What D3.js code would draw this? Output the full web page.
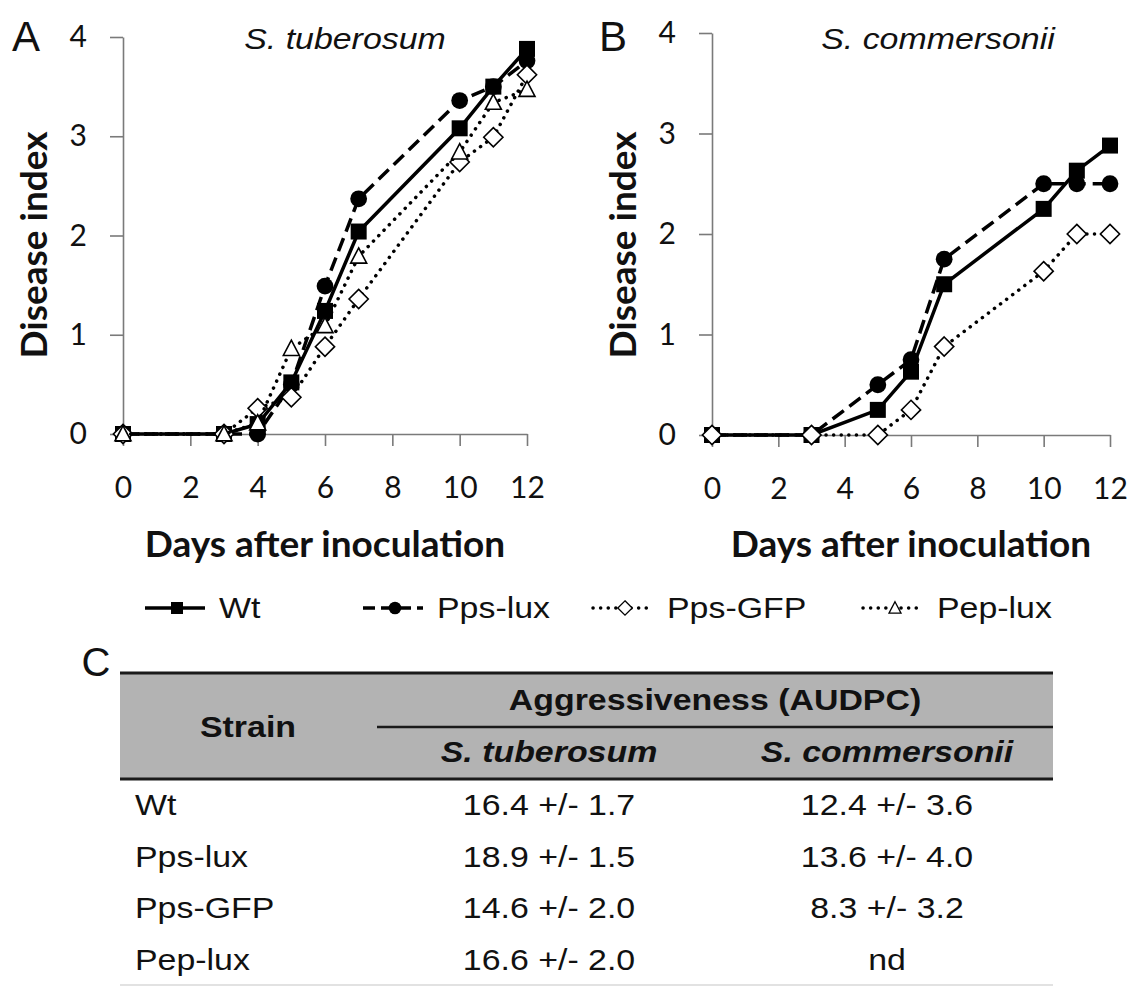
<!DOCTYPE html>
<html>
<head>
<meta charset="utf-8">
<script src="https://cdn.jsdelivr.net/npm/d3@7"></script>
<style>
  html, body { margin: 0; padding: 0; background: #fff; }
  svg { display: block; }
</style>
</head>
<body>
<div id="chart"></div>
<script>
// days where disease index was scored
const daysTuberosum = [0, 3, 4, 5, 6, 7, 10, 11, 12];
const daysCommersonii = [0, 3, 5, 6, 7, 10, 11, 12];

// panel A - S. tuberosum
const wtTuberosum = [0, 0, 0.1, 0.52, 1.24, 2.04, 3.08, 3.5, 3.88];
const ppsLuxTuberosum = [0, 0, 0, 0.5, 1.49, 2.37, 3.36, 3.5, 3.76];
const ppsGfpTuberosum = [0, 0, 0.26, 0.37, 0.88, 1.36, 2.74, 2.99, 3.62];
const pepLuxTuberosum = [0, 0, 0.11, 0.86, 1.09, 1.79, 2.84, 3.34, 3.47];

// panel B - S. commersonii (no Pep-lux)
const wtCommersonii = [0, 0, 0.25, 0.63, 1.5, 2.25, 2.63, 2.88];
const ppsLuxCommersonii = [0, 0, 0.5, 0.75, 1.75, 2.5, 2.5, 2.5];
const ppsGfpCommersonii = [0, 0, 0, 0.25, 0.88, 1.63, 2.0, 2.0];

const xTicks = [0, 2, 4, 6, 8, 10, 12];
const yTicks = [0, 1, 2, 3, 4];
const strainNames = ["Wt", "Pps-lux", "Pps-GFP", "Pep-lux"];

// panel C - table
const audpcTuberosum = ["16.4 +/- 1.7", "18.9 +/- 1.5", "14.6 +/- 2.0", "16.6 +/- 2.0"];
const audpcCommersonii = ["12.4 +/- 3.6", "13.6 +/- 4.0", "8.3 +/- 3.2", "nd"];

const W = 1133, H = 986;
const calibri = "Lato, 'Open Sans', sans-serif";
const arial = "'Liberation Sans', Arial, sans-serif";
const stretch = 1.13; // the arial text in the figure is a bit wide

const svg = d3.select("#chart").append("svg")
    .attr("width", W)
    .attr("height", H);

svg.append("rect").attr("width", W).attr("height", H).attr("fill", "#fff");

// line style per strain
const styles = {
    "Wt": { dash: null, cap: "butt", marker: "square" },
    "Pps-lux": { dash: "14,7", cap: "butt", marker: "circle" },
    "Pps-GFP": { dash: "0.1,7.5", cap: "round", marker: "diamond" },
    "Pep-lux": { dash: "0.1,7.5", cap: "round", marker: "triangle" }
};

function markerPath(type, s) {
    if (type === "square") return `M${-s},${-s}H${s}V${s}H${-s}Z`;
    if (type === "diamond") { const d = s * 1.2; return `M0,${-d}L${d},0L0,${d}L${-d},0Z`; }
    if (type === "triangle") return `M0,${-s * 1.05}L${s},${s * 0.85}L${-s},${s * 0.85}Z`;
    return d3.symbol(d3.symbolCircle, Math.PI * s * s * 1.1)();
}

function stretchedText(g, x, y, txt, opts) {
    return g.append("text")
        .attr("transform", `translate(${x},${y}) scale(${stretch},1)`)
        .attr("text-anchor", opts.anchor || "middle")
        .attr("dominant-baseline", "central")
        .attr("font-family", arial)
        .attr("font-size", opts.size || 30)
        .attr("font-weight", opts.weight || "normal")
        .attr("font-style", opts.style || "normal")
        .attr("fill", "#111")
        .text(txt);
}

function drawPanel(cfg) {
    const g = svg.append("g");
    const x = d3.scaleLinear().domain([0, 12]).range([cfg.left, cfg.right]);
    const y = d3.scaleLinear().domain([0, 4]).range([cfg.bottom, cfg.top]);

    const xAxis = g.append("g")
        .attr("transform", `translate(0,${cfg.bottom})`)
        .call(d3.axisBottom(x).tickValues(xTicks).tickSize(12).tickSizeOuter(0).tickPadding(31));
    const yAxis = g.append("g")
        .attr("transform", `translate(${cfg.left},0)`)
        .call(d3.axisLeft(y).tickValues(yTicks).tickFormat(d3.format("d"))
            .tickSize(13).tickSizeOuter(0).tickPadding(23));

    [xAxis, yAxis].forEach(a => {
        a.select(".domain").attr("stroke", "#7a7a7a").attr("stroke-width", 1.6);
        a.selectAll(".tick line").attr("stroke", "#7a7a7a").attr("stroke-width", 1.6);
        a.selectAll(".tick text")
            .attr("font-family", calibri)
            .attr("font-size", 30)
            .attr("fill", "#111");
    });

    // panel letter and title
    g.append("text")
        .attr("x", cfg.letterX).attr("y", 36)
        .attr("text-anchor", "middle").attr("dominant-baseline", "central")
        .attr("font-family", arial).attr("font-size", 42).attr("fill", "#111")
        .text(cfg.letter);
    stretchedText(g, cfg.titleX, 39, cfg.title, { size: 30, style: "italic" });

    g.append("text")
        .attr("transform", `translate(${cfg.yTitleX},245) rotate(-90)`)
        .attr("text-anchor", "middle").attr("dominant-baseline", "central")
        .attr("font-family", calibri).attr("font-weight", "bold").attr("font-size", 37)
        .attr("fill", "#111")
        .text("Disease index");
    g.append("text")
        .attr("x", (cfg.left + cfg.right) / 2).attr("y", 542)
        .attr("text-anchor", "middle").attr("dominant-baseline", "central")
        .attr("font-family", calibri).attr("font-weight", "bold").attr("font-size", 37)
        .attr("fill", "#111")
        .text("Days after inoculation");

    const line = d3.line().x(d => x(d[0])).y(d => y(d[1]));

    cfg.series.forEach(s => {
        const st = styles[s.name];
        const pts = cfg.days.map((d, i) => [d, s.values[i]]);
        g.append("path")
            .datum(pts)
            .attr("d", line)
            .attr("fill", "none")
            .attr("stroke", "#000")
            .attr("stroke-width", 3.5)
            .attr("stroke-linecap", st.cap)
            .attr("stroke-dasharray", st.dash);
        const filled = st.marker === "square" || st.marker === "circle";
        g.selectAll(null)
            .data(pts)
            .enter()
            .append("path")
            .attr("transform", d => `translate(${x(d[0])},${y(d[1])})`)
            .attr("d", markerPath(st.marker, 8))
            .attr("fill", filled ? "#000" : "#fff")
            .attr("stroke", "#000")
            .attr("stroke-width", filled ? 0 : 1.6);
    });
}

drawPanel({
    letter: "A", letterX: 26, title: "S. tuberosum", titleX: 345, yTitleX: 32,
    left: 123, right: 527, top: 37, bottom: 434,
    days: daysTuberosum,
    series: [
        { name: "Wt", values: wtTuberosum },
        { name: "Pps-lux", values: ppsLuxTuberosum },
        { name: "Pps-GFP", values: ppsGfpTuberosum },
        { name: "Pep-lux", values: pepLuxTuberosum }
    ]
});

drawPanel({
    letter: "B", letterX: 613, title: "S. commersonii", titleX: 938, yTitleX: 621,
    left: 712, right: 1110, top: 33, bottom: 435,
    days: daysCommersonii,
    series: [
        { name: "Wt", values: wtCommersonii },
        { name: "Pps-lux", values: ppsLuxCommersonii },
        { name: "Pps-GFP", values: ppsGfpCommersonii }
    ]
});

// legend
const legendX = [145, 363, 593, 863];
const legend = svg.append("g");
strainNames.forEach((name, i) => {
    const st = styles[name];
    const x0 = legendX[i], ly = 608;
    legend.append("line")
        .attr("x1", x0).attr("x2", x0 + 60).attr("y1", ly).attr("y2", ly)
        .attr("stroke", "#000").attr("stroke-width", 3.5)
        .attr("stroke-linecap", st.cap)
        .attr("stroke-dasharray", name === "Pps-lux" ? "12,6" : st.dash);
    const filled = st.marker === "square" || st.marker === "circle";
    legend.append("path")
        .attr("transform", `translate(${x0 + 32},${ly})`)
        .attr("d", markerPath(st.marker, 6))
        .attr("fill", filled ? "#000" : "#fff")
        .attr("stroke", "#000")
        .attr("stroke-width", filled ? 0 : 1.3);
    stretchedText(legend, x0 + 74, ly, name, { anchor: "start" });
});

// table C
const table = svg.append("g");
const tLeft = 120, tRight = 1053, tTop = 673, tMid = 727, tHead = 779;
const colX = [135, 549, 887];
const rowY = [805, 857, 908, 960];

table.append("text")
    .attr("x", 96).attr("y", 662)
    .attr("text-anchor", "middle").attr("dominant-baseline", "central")
    .attr("font-family", arial).attr("font-size", 40).attr("fill", "#111")
    .text("C");

table.append("rect")
    .attr("x", tLeft).attr("y", tTop)
    .attr("width", tRight - tLeft).attr("height", tHead - tTop)
    .attr("fill", "#b3b3b3");
table.append("line").attr("x1", tLeft).attr("x2", tRight).attr("y1", tTop).attr("y2", tTop)
    .attr("stroke", "#1a1a1a").attr("stroke-width", 3);
table.append("line").attr("x1", 377).attr("x2", tRight).attr("y1", tMid).attr("y2", tMid)
    .attr("stroke", "#1a1a1a").attr("stroke-width", 2.5);
table.append("line").attr("x1", tLeft).attr("x2", tRight).attr("y1", tHead).attr("y2", tHead)
    .attr("stroke", "#1a1a1a").attr("stroke-width", 3);
table.append("line").attr("x1", tLeft).attr("x2", tRight).attr("y1", 985).attr("y2", 985)
    .attr("stroke", "#e2e2e2").attr("stroke-width", 2);

stretchedText(table, 248, 727, "Strain", { weight: "bold" });
stretchedText(table, 715, 700, "Aggressiveness (AUDPC)", { weight: "bold" });
stretchedText(table, colX[1], 752, "S. tuberosum", { weight: "bold", style: "italic" });
stretchedText(table, colX[2], 752, "S. commersonii", { weight: "bold", style: "italic" });

strainNames.forEach((name, i) => {
    stretchedText(table, colX[0], rowY[i], name, { anchor: "start" });
    stretchedText(table, colX[1], rowY[i], audpcTuberosum[i], {});
    stretchedText(table, colX[2], rowY[i], audpcCommersonii[i], {});
});
</script>
</body>
</html>
